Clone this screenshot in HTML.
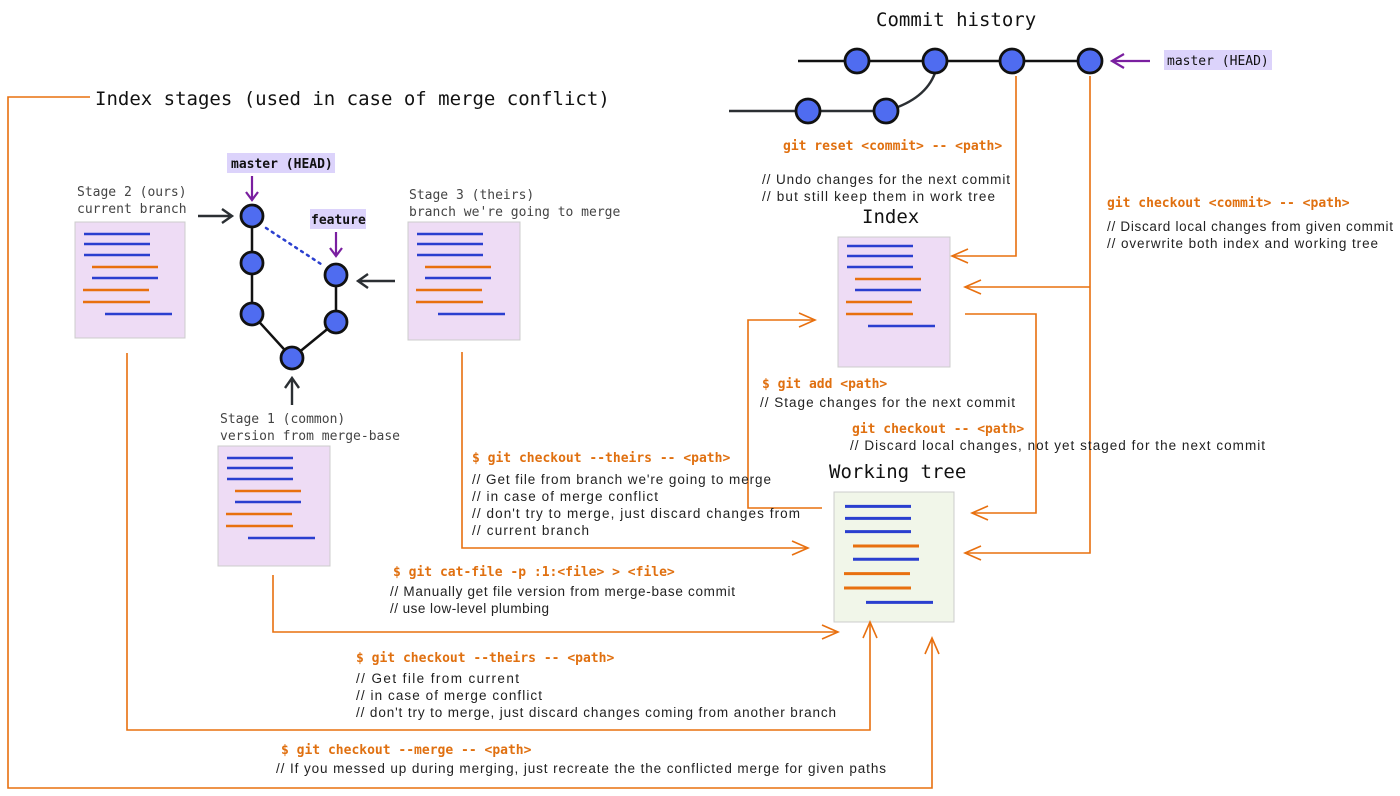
<!DOCTYPE html>
<html><head><meta charset="utf-8"><style>
html,body{margin:0;padding:0;background:#fff}
svg{display:block}
.m{font-family:"DejaVu Sans Mono","Liberation Mono",monospace}
.o{fill:#e07010;font-size:13px;font-weight:bold;font-family:"DejaVu Sans Mono","Liberation Mono",monospace}
.c{fill:#222;font-size:13.5px;font-family:"Liberation Sans",sans-serif}
.g{fill:#444;font-size:13px;font-family:"DejaVu Sans Mono","Liberation Mono",monospace}
.ol{stroke:#e8700f;stroke-width:1.6;fill:none}
.node{fill:#4f6cf0;stroke:#111;stroke-width:2.8}
</style></head><body>
<svg width="1400" height="796" viewBox="0 0 1400 796" xmlns="http://www.w3.org/2000/svg">
<defs>
<g id="lines">
<g stroke-width="2.5">
<line x1="9" y1="12" x2="75" y2="12" stroke="#2a3fcf"/>
<line x1="9" y1="22" x2="75" y2="22" stroke="#2a3fcf"/>
<line x1="9" y1="33" x2="75" y2="33" stroke="#2a3fcf"/>
<line x1="17" y1="45" x2="83" y2="45" stroke="#e8700f"/>
<line x1="17" y1="56" x2="83" y2="56" stroke="#2a3fcf"/>
<line x1="8" y1="68" x2="74" y2="68" stroke="#e8700f"/>
<line x1="8" y1="80" x2="75" y2="80" stroke="#e8700f"/>
<line x1="30" y1="92" x2="97" y2="92" stroke="#2a3fcf"/>
</g></g>
</defs>

<rect x="75" y="222" width="110" height="116" fill="#eedcf5" stroke="#ccc"/>
<use href="#lines" x="75" y="222"/>
<rect x="408" y="222" width="112" height="118" fill="#eedcf5" stroke="#ccc"/>
<use href="#lines" x="408" y="222"/>
<rect x="218" y="446" width="112" height="120" fill="#eedcf5" stroke="#ccc"/>
<use href="#lines" x="218" y="446"/>
<rect x="838" y="237" width="112" height="130" fill="#eedcf5" stroke="#ccc"/>
<use href="#lines" x="838" y="234"/>
<rect x="834" y="492" width="120" height="130" fill="#f1f6e9" stroke="#ccc"/>
<g transform="translate(836,492) scale(1,1.2)"><use href="#lines"/></g>

<line x1="252" y1="216" x2="252" y2="314" stroke="#111" stroke-width="2.5"/>
<polyline points="252,314 292,358 336,322 336,275" stroke="#111" stroke-width="2.5" fill="none"/>
<line x1="266" y1="228" x2="324" y2="266" stroke="#2a3fcf" stroke-width="2.5" stroke-dasharray="2,5" stroke-linecap="round"/>
<circle class="node" cx="252" cy="216" r="11"/>
<circle class="node" cx="252" cy="263" r="11"/>
<circle class="node" cx="252" cy="314" r="11"/>
<circle class="node" cx="292" cy="358" r="11"/>
<circle class="node" cx="336" cy="275" r="11"/>
<circle class="node" cx="336" cy="322" r="11"/>
<rect x="227" y="153" width="108" height="20" fill="#dcd3fb"/>
<text x="231" y="168" class="m" font-size="13" font-weight="bold" fill="#111">master (HEAD)</text>
<rect x="310" y="209" width="56" height="20" fill="#dcd3fb"/>
<text x="311" y="224" class="m" font-size="13" font-weight="bold" fill="#111">feature</text>
<g stroke="#7a1fa0" stroke-width="2.2" fill="none">
<path d="M252 176 V200 M246 192 L252 200 L258 192"/>
<path d="M336 232 V256 M330 248 L336 256 L342 248"/>
<path d="M1150 61 H1112 M1124 54 L1112 61 L1124 68"/>
</g>
<g stroke="#2b2f33" stroke-width="2.4" fill="none">
<path d="M198 216 H232 M222 209 L232 216 L222 223"/>
<path d="M395 281 H358 M368 274 L358 281 L368 288"/>
<path d="M292 405 V378 M285 388 L292 378 L299 388"/>
</g>
<text x="77" y="196" class="g">Stage 2 (ours)</text>
<text x="77" y="213" class="g">current branch</text>
<text x="409" y="199" class="g">Stage 3 (theirs)</text>
<text x="409" y="216" class="g">branch we're going to merge</text>
<text x="220" y="423" class="g">Stage 1 (common)</text>
<text x="220" y="440" class="g">version from merge-base</text>
<text x="95" y="105" class="m" font-size="19" fill="#111">Index stages (used in case of merge conflict)</text>

<text x="876" y="26" class="m" font-size="19" fill="#111">Commit history</text>
<line x1="798" y1="61" x2="1090" y2="61" stroke="#111" stroke-width="2.5"/>
<line x1="729" y1="111" x2="886" y2="111" stroke="#2b2f33" stroke-width="2.5"/>
<path d="M886 111 Q925 100 935 73" stroke="#2b2f33" stroke-width="2.5" fill="none"/>
<circle class="node" cx="857" cy="61" r="12"/>
<circle class="node" cx="935" cy="61" r="12"/>
<circle class="node" cx="1012" cy="61" r="12"/>
<circle class="node" cx="1090" cy="61" r="12"/>
<circle class="node" cx="808" cy="111" r="12"/>
<circle class="node" cx="886" cy="111" r="12"/>
<rect x="1164" y="50" width="108" height="20" fill="#dcd3fb"/>
<text x="1167" y="65" class="m" font-size="13" fill="#111">master (HEAD)</text>
<text x="862" y="223" class="m" font-size="19" fill="#111">Index</text>
<text x="829" y="478" class="m" font-size="19" fill="#111">Working tree</text>

<g class="ol">
<path d="M90 97 H8 V788 H932 V640"/><path d="M925 654 L932 638 L939 654"/>
<path d="M127 353 V730 H870 V624"/><path d="M863 638 L870 622 L877 638"/>
<path d="M273 575 V632 H838"/><path d="M822 625 L838 632 L822 639"/>
<path d="M462 352 V548 H808"/><path d="M792 541 L808 548 L792 555"/>
<path d="M822 508 H748 V320 H815"/><path d="M799 313 L815 320 L799 327"/>
<path d="M965 314 H1036 V513 H972"/><path d="M988 506 L972 513 L988 520"/>
<path d="M1016 76 V256 H952"/><path d="M968 249 L952 256 L968 263"/>
<path d="M1090 76 V553 H965"/><path d="M981 546 L965 553 L981 560"/>
<path d="M1090 287 H965"/><path d="M981 280 L965 287 L981 294"/>
</g>

<text x="783" y="150" class="o">git reset &lt;commit&gt; -- &lt;path&gt;</text>
<text x="762" y="184" class="c" textLength="248">// Undo changes for the next commit</text>
<text x="762" y="201" class="c" textLength="233">// but still keep them in work tree</text>
<text x="1107" y="207" class="o">git checkout &lt;commit&gt; -- &lt;path&gt;</text>
<text x="1107" y="231" class="c" textLength="286">// Discard local changes from given commit</text>
<text x="1107" y="248" class="c" textLength="271">// overwrite both index and working tree</text>
<text x="762" y="388" class="o">$ git add &lt;path&gt;</text>
<text x="760" y="407" class="c" textLength="255">// Stage changes for the next commit</text>
<text x="852" y="433" class="o">git checkout -- &lt;path&gt;</text>
<text x="850" y="450" class="c" textLength="415">// Discard local changes, not yet staged for the next commit</text>
<text x="472" y="462" class="o">$ git checkout --theirs -- &lt;path&gt;</text>
<text x="472" y="484" class="c" textLength="299">// Get file from branch we're going to merge</text>
<text x="472" y="501" class="c" textLength="186">// in case of merge conflict</text>
<text x="472" y="518" class="c" textLength="328">// don't try to merge, just discard changes from</text>
<text x="472" y="535" class="c" textLength="117">// current branch</text>
<text x="393" y="576" class="o">$ git cat-file -p :1:&lt;file&gt; &gt; &lt;file&gt;</text>
<text x="390" y="596" class="c" textLength="345">// Manually get file version from merge-base commit</text>
<text x="390" y="613" class="c" textLength="159">// use low-level plumbing</text>
<text x="356" y="662" class="o">$ git checkout --theirs -- &lt;path&gt;</text>
<text x="356" y="683" class="c" textLength="163">// Get file from current</text>
<text x="356" y="700" class="c" textLength="186">// in case of merge conflict</text>
<text x="356" y="717" class="c" textLength="480">// don't try to merge, just discard changes coming from another branch</text>
<text x="281" y="754" class="o">$ git checkout --merge -- &lt;path&gt;</text>
<text x="276" y="773" class="c" textLength="610">// If you messed up during merging, just recreate the the conflicted merge for given paths</text>
</svg>
</body></html>
